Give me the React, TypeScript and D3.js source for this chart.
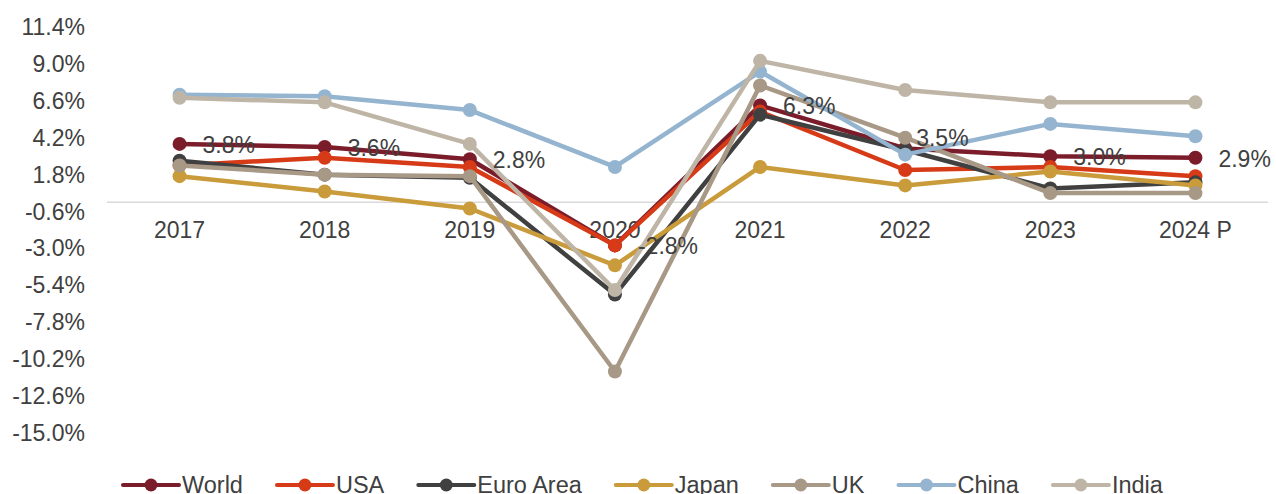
import React, { useEffect, useRef } from "react";
import * as d3 from "d3";

const categories = ["2017", "2018", "2019", "2020", "2021", "2022", "2023", "2024 P"];
const yTicks = [11.4, 9.0, 6.6, 4.2, 1.8, -0.6, -3.0, -5.4, -7.8, -10.2, -12.6, -15.0];

const world = [3.8, 3.6, 2.8, -2.8, 6.3, 3.5, 3.0, 2.9];
const usa = [2.4, 2.9, 2.3, -2.8, 5.9, 2.1, 2.3, 1.7];
const euroArea = [2.7, 1.8, 1.6, -6.0, 5.7, 3.4, 0.9, 1.3];
const japan = [1.7, 0.7, -0.4, -4.1, 2.3, 1.1, 2.0, 1.1];
const uk = [2.4, 1.8, 1.7, -11.0, 7.6, 4.2, 0.6, 0.6];
const china = [7.0, 6.9, 6.0, 2.3, 8.5, 3.1, 5.1, 4.3];
const india = [6.8, 6.5, 3.8, -5.7, 9.2, 7.3, 6.5, 6.5];

const seriesNames = ["World", "USA", "Euro Area", "Japan", "UK", "China", "India"];
const seriesColors = ["#7B1C2A", "#D63A17", "#404040", "#C99B3B", "#A89886", "#94B4D0", "#BFB5A7"];

export default function App() {
  const ref = useRef<SVGSVGElement | null>(null);

  useEffect(() => {
    const svg = d3.select(ref.current);
    svg.selectAll("*").remove();
    const W = 1276, H = 494;
    const font = "'Liberation Sans', Arial, sans-serif";
    const textColor = "#404040";
    const fs = 23;

    const x = d3.scaleBand<string>().domain(categories).range([107, 1268]);
    const y = d3.scaleLinear().domain([-15, 11.4]).range([433, 27]);
    const cx = (c: string) => (x(c) as number) + x.bandwidth() / 2;

    const allSeries = [world, usa, euroArea, japan, uk, china, india];

    // y tick labels
    svg.append("g").selectAll("text").data(yTicks).join("text")
      .attr("x", 85).attr("y", (d) => y(d))
      .attr("text-anchor", "end").attr("dominant-baseline", "central")
      .attr("font-family", font).attr("font-size", fs).attr("fill", textColor)
      .text((d) => d.toFixed(1) + "%");

    // zero axis line
    svg.append("line")
      .attr("x1", 107).attr("x2", 1268).attr("y1", y(0)).attr("y2", y(0))
      .attr("stroke", "#D9D9D9").attr("stroke-width", 1.5);

    // x labels
    svg.append("g").selectAll("text").data(categories).join("text")
      .attr("x", (d) => cx(d)).attr("y", 230)
      .attr("text-anchor", "middle").attr("dominant-baseline", "central")
      .attr("font-family", font).attr("font-size", fs).attr("fill", textColor)
      .text((d) => d);

    const line = d3.line<number>().x((_, i) => cx(categories[i])).y((d) => y(d));

    allSeries.forEach((vals, si) => {
      const g = svg.append("g");
      g.append("path").datum(vals).attr("d", line)
        .attr("fill", "none").attr("stroke", seriesColors[si])
        .attr("stroke-width", 4.5).attr("stroke-linejoin", "round").attr("stroke-linecap", "round");
      g.selectAll("circle").data(vals).join("circle")
        .attr("cx", (_, i) => cx(categories[i])).attr("cy", (d) => y(d))
        .attr("r", 7).attr("fill", seriesColors[si]);
    });

    // data labels for World (label at index 5 nudged as in the original)
    const nudge = (i: number): [number, number] => (i === 5 ? [11, -10] : [23, 1]);
    svg.append("g").selectAll("text").data(world).join("text")
      .attr("x", (_, i) => cx(categories[i]) + nudge(i)[0])
      .attr("y", (d, i) => y(d) + nudge(i)[1])
      .attr("dominant-baseline", "central")
      .attr("font-family", font).attr("font-size", fs).attr("fill", textColor)
      .text((d) => d.toFixed(1) + "%");

    // legend
    const lg = svg.append("g");
    let lx = 123;
    const ly = 485;
    const lineLen = 56;
    seriesNames.forEach((name, i) => {
      lg.append("line").attr("x1", lx).attr("x2", lx + lineLen).attr("y1", ly).attr("y2", ly)
        .attr("stroke", seriesColors[i]).attr("stroke-width", 4).attr("stroke-linecap", "round");
      lg.append("circle").attr("cx", lx + lineLen / 2).attr("cy", ly).attr("r", 6.5).attr("fill", seriesColors[i]);
      const t = lg.append("text").attr("x", lx + lineLen + 3).attr("y", ly)
        .attr("dominant-baseline", "central")
        .attr("font-family", font).attr("font-size", 23.5).attr("fill", textColor)
        .text(name);
      const w = (t.node() as SVGTextElement).getComputedTextLength();
      lx = lx + lineLen + 3 + w + 34;
    });

    svg.attr("width", W).attr("height", H);
  }, []);

  return (
    <svg ref={ref} width={1276} height={494}
      style={{ position: "absolute", left: 0, top: 0, background: "#fff" }} />
  );
}
